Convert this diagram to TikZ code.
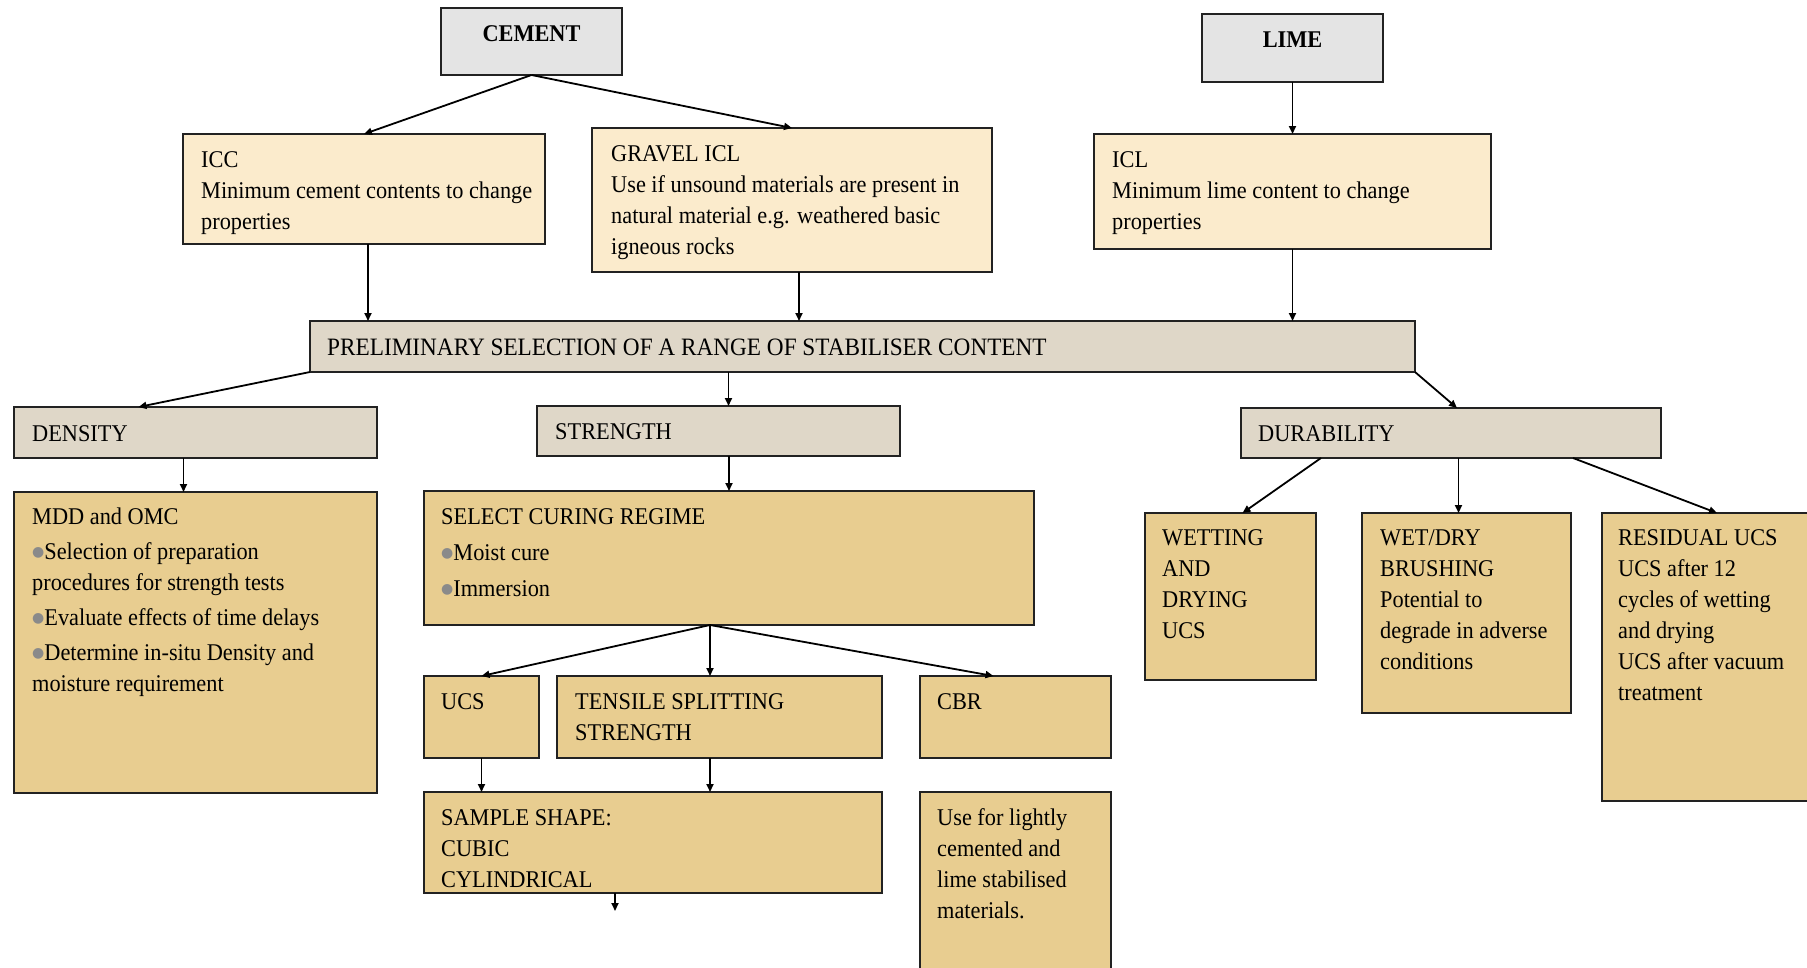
\documentclass[tikz,border=0pt]{standalone}
\usepackage{fontspec}
\setmainfont{Liberation Serif}[FakeStretch=0.93]
\newfontfamily\dejavu{DejaVu Sans}
\usetikzlibrary{arrows.meta,calc}
\definecolor{greybox}{HTML}{E4E4E4}
\definecolor{creambox}{HTML}{FBEBCC}
\definecolor{beigebox}{HTML}{DFD7C8}
\definecolor{tanbox}{HTML}{E8CD90}
\definecolor{boxline}{HTML}{222222}
\definecolor{bulgrey}{HTML}{8A8A8A}
\newcommand\bul{\raisebox{3pt}{\color{bulgrey}\dejavu\fontsize{14}{14}\selectfont ●}}
\newcommand\fst{\rule{0pt}{20pt}}
\begin{document}
\begin{tikzpicture}[x=1pt,y=-1pt,
  box/.style={draw=boxline, line width=1.6pt, outer sep=0pt, inner sep=0pt, anchor=north west},
  txt/.style={font=\fontsize{24}{31}\selectfont, align=left, inner sep=0pt, anchor=north west},
  arr/.style={-{Triangle[length=8pt,width=7pt]}, line width=1.8pt}]
\useasboundingbox (0,0) rectangle (1807,967);
\clip (0,0) rectangle (1807,967);
% boxes
\node[box, fill=greybox, minimum width=181, minimum height=67] (cement) at (441,8) {};
\node[box, fill=greybox, minimum width=181, minimum height=68] (lime) at (1202,14) {};
\node[box, fill=creambox, minimum width=362, minimum height=110] (icc) at (183,134) {};
\node[box, fill=creambox, minimum width=400, minimum height=144] (gravel) at (592,128) {};
\node[box, fill=creambox, minimum width=397, minimum height=115] (icl) at (1094,134) {};
\node[box, fill=beigebox, minimum width=1105, minimum height=51] (prelim) at (310,321) {};
\node[box, fill=beigebox, minimum width=363, minimum height=51] (density) at (14,407) {};
\node[box, fill=beigebox, minimum width=363, minimum height=50] (strength) at (537,406) {};
\node[box, fill=beigebox, minimum width=420, minimum height=50] (durability) at (1241,408) {};
\node[box, fill=tanbox, minimum width=363, minimum height=301] (mdd) at (14,492) {};
\node[box, fill=tanbox, minimum width=610, minimum height=134] (select) at (424,491) {};
\node[box, fill=tanbox, minimum width=115, minimum height=82] (ucs) at (424,676) {};
\node[box, fill=tanbox, minimum width=325, minimum height=82] (tensile) at (557,676) {};
\node[box, fill=tanbox, minimum width=191, minimum height=82] (cbr) at (920,676) {};
\node[box, fill=tanbox, minimum width=458, minimum height=101] (sample) at (424,792) {};
\node[box, fill=tanbox, minimum width=191, minimum height=200] (use) at (920,792) {};
\node[box, fill=tanbox, minimum width=171, minimum height=167] (wetting) at (1145,513) {};
\node[box, fill=tanbox, minimum width=209, minimum height=200] (wetdry) at (1362,513) {};
\node[box, fill=tanbox, minimum width=230, minimum height=288] (residual) at (1602,513) {};
% texts (anchor = first baseline - 20)
\node[txt, anchor=north, font=\fontsize{24}{31}\selectfont\bfseries] (cement-t) at (531.5,21) {\fst CEMENT};
\node[txt, anchor=north, font=\fontsize{24}{31}\selectfont\bfseries] (lime-t) at (1292.5,27) {\fst LIME};
\node[txt] (icc-t) at (201,147) {\fst ICC\\Minimum cement contents to change\\properties};
\node[txt] (gravel-t) at (611,141) {\fst GRAVEL ICL\\Use if unsound materials are present in\\natural material e.g. weathered basic\\igneous rocks};
\node[txt] (icl-t) at (1112,147) {\fst ICL\\Minimum lime content to change\\properties};
\node[txt, font=\fontsize{25}{31}\selectfont] (prelim-t) at (327,335) {\fst PRELIMINARY SELECTION OF A RANGE OF STABILISER CONTENT};
\node[txt] (density-t) at (32,421) {\fst DENSITY};
\node[txt] (strength-t) at (555,419) {\fst STRENGTH};
\node[txt] (durability-t) at (1258,421) {\fst DURABILITY};
\node[txt] (mdd-t) at (32,504) {\fst MDD and OMC\\[4pt]\bul Selection of preparation\\procedures for strength tests\\[4pt]\bul Evaluate effects of time delays\\[4pt]\bul Determine in-situ Density and\\moisture requirement};
\node[txt] (select-t) at (441,504) {\fst SELECT CURING REGIME\\[5pt]\bul Moist cure\\[5pt]\bul Immersion};
\node[txt] (ucs-t) at (441,689) {\fst UCS};
\node[txt] (tensile-t) at (575,689) {\fst TENSILE SPLITTING\\STRENGTH};
\node[txt] (cbr-t) at (937,689) {\fst CBR};
\node[txt] (sample-t) at (441,805) {\fst SAMPLE SHAPE:\\CUBIC\\CYLINDRICAL};
\node[txt] (use-t) at (937,805) {\fst Use for lightly\\cemented and\\lime stabilised\\materials.};
\node[txt] (wetting-t) at (1162,525) {\fst WETTING\\AND\\DRYING\\UCS};
\node[txt] (wetdry-t) at (1380,525) {\fst WET/DRY\\BRUSHING\\Potential to\\degrade in adverse\\conditions};
\node[txt] (residual-t) at (1618,525) {\fst RESIDUAL UCS\\UCS after 12\\cycles of wetting\\and drying\\UCS after vacuum\\treatment};
% connectors
\draw[arr] (cement.south) -- (icc.north);
\draw[arr] (cement.south) -- (gravel.north);
\draw[arr] (lime.south) -- (icl.north);
\draw[arr] ([xshift=4pt]icc.south) -- ([xshift=4pt]icc.south |- prelim.north);
\draw[arr] ([xshift=7pt]gravel.south) -- ([xshift=7pt]gravel.south |- prelim.north);
\draw[arr] (icl.south) -- (icl.south |- prelim.north);
\draw[arr] (prelim.south west) -- ([xshift=-57pt]density.north);
\draw[arr] ([xshift=10pt]strength.north |- prelim.south) -- ([xshift=10pt]strength.north);
\draw[arr] (prelim.south east) -- ([xshift=6pt]durability.north);
\draw[arr] ([xshift=-12pt]density.south) -- ([xshift=-12pt]mdd.north);
\draw[arr] (select.north |- strength.south) -- (select.north);
\coordinate (sc) at ([xshift=-19pt]select.south);
\draw[arr] (sc) -- (ucs.north);
\draw[arr] (sc) -- (sc |- tensile.north);
\draw[arr] (sc) -- ([xshift=-22pt]cbr.north);
\draw[arr] (ucs.south) -- (ucs.south |- sample.north);
\draw[arr] (sc |- tensile.south) -- (sc |- sample.north);
\coordinate (sampleout) at (615,911);
\draw[arr] (sampleout |- sample.south) -- (sampleout);
\draw[arr] ([xshift=80pt]durability.south west) -- ([xshift=12pt]wetting.north);
\draw[arr] ([xshift=-8pt]wetdry.north |- durability.south) -- ([xshift=-8pt]wetdry.north);
\draw[arr] ([xshift=332pt]durability.south west) -- (residual.north);
\end{tikzpicture}
\end{document}
